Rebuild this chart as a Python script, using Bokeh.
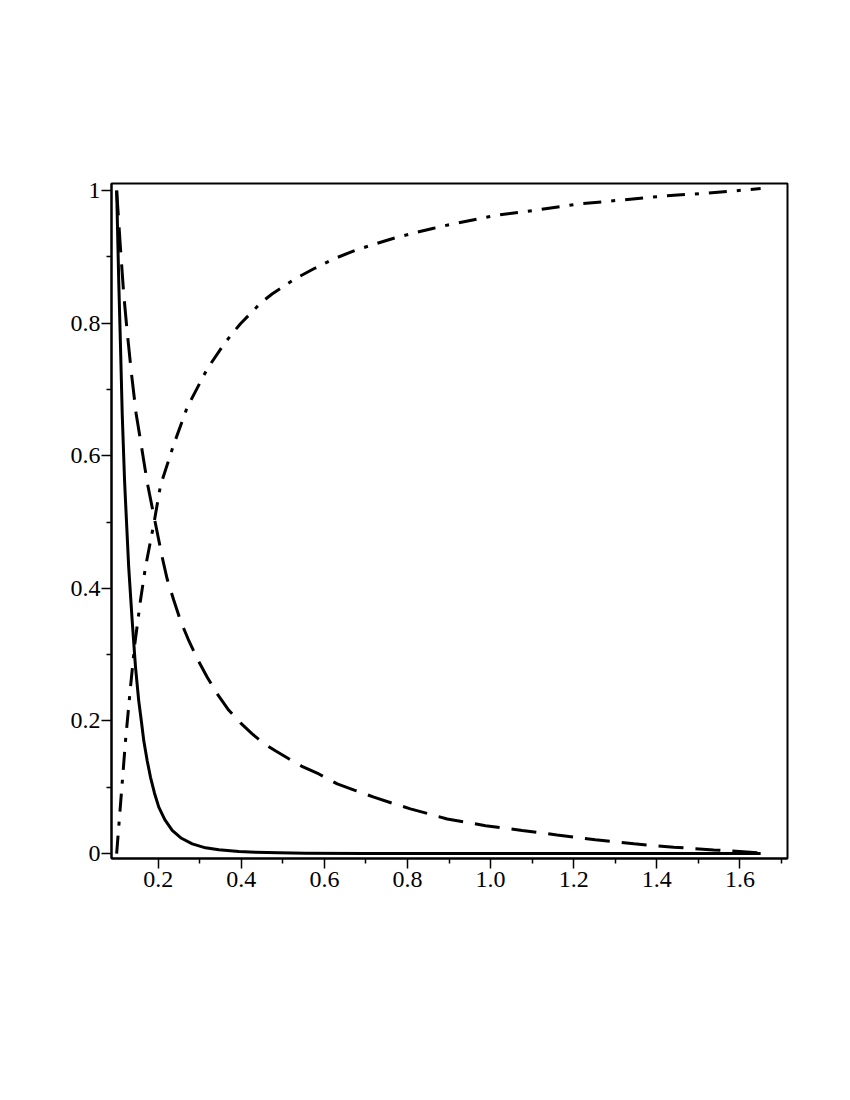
from bokeh.plotting import figure
from bokeh.models import Range1d, FixedTicker
from bokeh.embed import file_html
from bokeh.resources import INLINE

# ---- data ----
solid_x = [0.100, 0.105, 0.1093, 0.1134, 0.119, 0.1213, 0.129, 0.1374, 0.1454, 0.153,
           0.1598, 0.1653, 0.1735, 0.1815, 0.1911, 0.2014, 0.2159, 0.2337, 0.256,
           0.282, 0.3138, 0.346, 0.394, 0.434, 0.490, 0.554, 0.70, 0.90,
           1.10, 1.30, 1.50, 1.65]
solid_y = [1.0, 0.864, 0.764, 0.663, 0.563, 0.532, 0.432, 0.351, 0.281, 0.231,
           0.198, 0.170, 0.140, 0.115, 0.091, 0.070, 0.051, 0.035, 0.023,
           0.0146, 0.0086, 0.0056, 0.003, 0.002, 0.001, 0.0005, 0.0002, 0.0001,
           0.00005, 0.00003, 0.00002, 0.00001]

dash_x = [0.100, 0.109, 0.117, 0.125, 0.1357, 0.147, 0.160, 0.1735, 0.1894, 0.2096,
          0.2216, 0.2375, 0.2537, 0.2737, 0.2939, 0.318, 0.342, 0.370, 0.398,
          0.4262, 0.454, 0.482, 0.5143, 0.5446, 0.5866, 0.631, 0.675, 0.719,
          0.763, 0.807, 0.851, 0.8955, 0.988, 1.076, 1.16, 1.252, 1.345, 1.441,
          1.537, 1.650]
dash_y = [1.0, 0.9145, 0.844, 0.789, 0.7235, 0.663, 0.613, 0.560, 0.510, 0.447,
          0.414, 0.382, 0.351, 0.321, 0.294, 0.266, 0.241, 0.216, 0.197,
          0.1805, 0.166, 0.155, 0.143, 0.132, 0.120, 0.105, 0.095, 0.085,
          0.076, 0.0674, 0.060, 0.052, 0.042, 0.0347, 0.0280, 0.0209, 0.0146, 0.0095,
          0.0055, 0.001]

dashdot_x = [0.100, 0.1213, 0.1333, 0.1437, 0.1574, 0.1694, 0.1894, 0.2055, 0.2375,
             0.2698, 0.318, 0.358, 0.378, 0.398, 0.446, 0.474, 0.530, 0.5745, 0.623,
             0.671, 0.715, 0.767, 0.815, 0.863, 0.911, 0.968, 1.016, 1.116, 1.216,
             1.321, 1.421, 1.521, 1.626, 1.650]
dashdot_y = [0.000, 0.170, 0.251, 0.316, 0.382, 0.432, 0.497, 0.555, 0.617,
             0.673, 0.731, 0.768, 0.784, 0.799, 0.830, 0.844, 0.867, 0.882, 0.897,
             0.909, 0.918, 0.928, 0.936, 0.943, 0.950, 0.957, 0.963, 0.971, 0.980,
             0.986, 0.992, 0.996, 1.0015, 1.003]

x_ticks = [0.2, 0.4, 0.6, 0.8, 1.0, 1.2, 1.4, 1.6]
x_tick_labels = ["0.2", "0.4", "0.6", "0.8", "1.0", "1.2", "1.4", "1.6"]
x_minor = [0.3, 0.5, 0.7, 0.9, 1.1, 1.3, 1.5, 1.7]
y_ticks = [0.0, 0.2, 0.4, 0.6, 0.8, 1.0]
y_tick_labels = ["0", "0.2", "0.4", "0.6", "0.8", "1"]
y_minor = [0.1, 0.3, 0.5, 0.7, 0.9]

# ---- figure ----
p = figure(frame_width=676, frame_height=675,
           min_border_left=111, min_border_top=183,
           min_border_right=40, min_border_bottom=100,
           x_range=Range1d(0.0876, 1.7146), y_range=Range1d(-0.0075, 1.0106),
           output_backend="svg", toolbar_location=None)

p.grid.visible = False
p.outline_line_color = "black"
p.outline_line_width = 2
p.background_fill_color = "white"
p.border_fill_color = "white"

p.xaxis[0].ticker = FixedTicker(ticks=x_ticks, minor_ticks=x_minor)
p.yaxis[0].ticker = FixedTicker(ticks=y_ticks, minor_ticks=y_minor)
p.xaxis[0].major_label_overrides = {t: l for t, l in zip(x_ticks, x_tick_labels)}
p.yaxis[0].major_label_overrides = {t: l for t, l in zip(y_ticks, y_tick_labels)}

for ax in (p.xaxis[0], p.yaxis[0]):
    ax.axis_line_color = "black"
    ax.axis_line_width = 2
    ax.major_tick_line_color = "black"
    ax.minor_tick_line_color = "black"
    ax.major_tick_line_width = 1.5
    ax.minor_tick_line_width = 1.5
    ax.major_tick_in = 0
    ax.major_tick_out = 10
    ax.minor_tick_in = 0
    ax.minor_tick_out = 5
    ax.major_label_text_font = "Liberation Serif"
    ax.major_label_text_font_size = "24px"
    ax.major_label_text_color = "black"

p.xaxis[0].major_label_standoff = 3
p.yaxis[0].major_label_standoff = 1

p.line(solid_x, solid_y, line_color="black", line_width=3, line_join="round")
p.line(dash_x, dash_y, line_color="black", line_width=3, line_dash="25 12")
p.line(dashdot_x, dashdot_y, line_color="black", line_width=3, line_dash="18 10 4 10")

open("out.html", "w").write(file_html(p, INLINE))
